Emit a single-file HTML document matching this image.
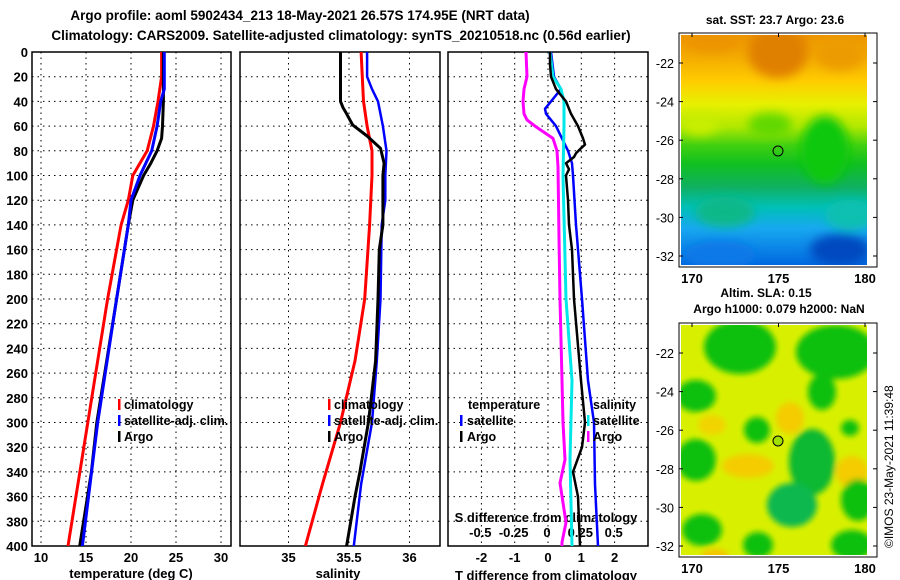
<!DOCTYPE html>
<html><head><meta charset="utf-8">
<style>
html,body{margin:0;padding:0;background:#fff;}
svg{display:block;font-family:"Liberation Sans",sans-serif;font-weight:bold;}
</style></head>
<body>
<svg id="chart" width="900" height="580" viewBox="0 0 900 580" xmlns="http://www.w3.org/2000/svg">
<defs>
<filter id="blur6" x="-30%" y="-30%" width="160%" height="160%"><feGaussianBlur stdDeviation="5"/></filter>
<filter id="blur4" x="-30%" y="-30%" width="160%" height="160%"><feGaussianBlur stdDeviation="3"/></filter>
<linearGradient id="sstGrad" x1="0" y1="0" x2="0" y2="1">
<stop offset="0" stop-color="#ec9400"/><stop offset="0.1" stop-color="#f4ac00"/>
<stop offset="0.2" stop-color="#ffcc00"/><stop offset="0.3" stop-color="#e8f000"/>
<stop offset="0.4" stop-color="#b0e800"/><stop offset="0.48" stop-color="#40d010"/>
<stop offset="0.56" stop-color="#10c020"/><stop offset="0.66" stop-color="#10b060"/>
<stop offset="0.75" stop-color="#00c0b8"/><stop offset="0.84" stop-color="#18a8f0"/>
<stop offset="1" stop-color="#0068e0"/>
</linearGradient>
<clipPath id="clipMap1"><rect x="681" y="35" width="186" height="230"/></clipPath>
<clipPath id="clipMap2"><rect x="681" y="325" width="186" height="230"/></clipPath>
<clipPath id="clipP1"><rect x="32" y="52" width="199" height="494"/></clipPath>
<clipPath id="clipP2"><rect x="240" y="52" width="200" height="494"/></clipPath>
<clipPath id="clipP3"><rect x="448" y="52" width="200" height="494"/></clipPath>
</defs>
<text x="300" y="20" font-size="13.5" text-anchor="middle">Argo profile: aoml 5902434_213 18-May-2021 26.57S 174.95E (NRT data)</text>
<text x="341" y="40" font-size="13.5" text-anchor="middle">Climatology: CARS2009. Satellite-adjusted climatology: synTS_20210518.nc (0.56d earlier)</text>

<g>
<g clip-path="url(#clipMap1)">
<rect x="681" y="35" width="186" height="230" fill="url(#sstGrad)"/>
<g filter="url(#blur6)">
<ellipse cx="778" cy="52" rx="30" ry="26" fill="#e08000"/>
<ellipse cx="712" cy="42" rx="28" ry="10" fill="#ec9400"/>
<ellipse cx="840" cy="55" rx="25" ry="16" fill="#ec9c00"/>
<ellipse cx="825" cy="150" rx="24" ry="34" fill="#10c810"/>
<ellipse cx="770" cy="125" rx="22" ry="12" fill="#60d800"/>
<ellipse cx="700" cy="125" rx="18" ry="10" fill="#c8ee00"/>
<ellipse cx="850" cy="215" rx="25" ry="15" fill="#10c0b0"/>
<ellipse cx="725" cy="212" rx="30" ry="15" fill="#10b888"/>
<ellipse cx="720" cy="255" rx="35" ry="14" fill="#0a78e8"/>
<ellipse cx="840" cy="250" rx="30" ry="16" fill="#0048c0"/>
</g>
</g>
<circle cx="778" cy="151" r="5" fill="none" stroke="#000" stroke-width="1"/>
<rect x="679" y="33" width="198" height="234" fill="none" stroke="#000" stroke-width="1"/>
<text x="775" y="24" font-size="12" text-anchor="middle">sat. SST: 23.7 Argo: 23.6</text>
</g>

<g>
<g clip-path="url(#clipMap2)">
<rect x="681" y="325" width="186" height="230" fill="#d8f000"/>
<g filter="url(#blur4)">
<ellipse cx="790" cy="418" rx="14" ry="16" fill="#f4cc00"/>
<ellipse cx="748" cy="466" rx="26" ry="12" fill="#f4cc00"/>
<ellipse cx="712" cy="425" rx="14" ry="10" fill="#f2d400"/>
<ellipse cx="852" cy="472" rx="16" ry="16" fill="#f4cc00"/>
<ellipse cx="715" cy="556" rx="14" ry="7" fill="#f4c400"/>
<ellipse cx="740" cy="347" rx="36" ry="27" fill="#10c010"/>
<ellipse cx="836" cy="352" rx="40" ry="27" fill="#10c010"/>
<ellipse cx="822" cy="392" rx="14" ry="18" fill="#10c010"/>
<ellipse cx="696" cy="396" rx="20" ry="16" fill="#10c010"/>
<ellipse cx="757" cy="430" rx="13" ry="13" fill="#10c010"/>
<ellipse cx="812" cy="462" rx="23" ry="33" fill="#10b830"/>
<ellipse cx="696" cy="460" rx="20" ry="21" fill="#10c010"/>
<ellipse cx="792" cy="505" rx="25" ry="22" fill="#10b850"/>
<ellipse cx="858" cy="500" rx="17" ry="21" fill="#10c010"/>
<ellipse cx="702" cy="530" rx="20" ry="16" fill="#10c010"/>
<ellipse cx="758" cy="545" rx="15" ry="13" fill="#10c010"/>
<ellipse cx="852" cy="545" rx="21" ry="15" fill="#10c010"/>
<ellipse cx="850" cy="428" rx="9" ry="8" fill="#10c010"/>
</g>
</g>
<circle cx="778" cy="441" r="5" fill="#a0e000" stroke="#000" stroke-width="1"/>
<rect x="679" y="323" width="198" height="234" fill="none" stroke="#000" stroke-width="1"/>
<text x="766" y="297" font-size="12" text-anchor="middle">Altim. SLA: 0.15</text>
<text x="779" y="313" font-size="12" text-anchor="middle">Argo h1000: 0.079 h2000: NaN</text>
</g>
<text transform="translate(893,548) rotate(-90)" font-size="12" font-weight="normal">©IMOS 23-May-2021 11:39:48</text>
<g id="dyn"></g>
</svg>
<script>
const depthTicks = [0,20,40,60,80,100,120,140,160,180,200,220,240,260,280,300,320,340,360,380,400];
const tempTicks = [10,15,20,25,30];
const salTicks = [35,35.5,36];
const tdiffTicks = [-2,-1,0,1,2];
const sdiffTicks = [-0.5,-0.25,0,0.25,0.5];
const sdiffTickLabels = ['-0.5','-0.25','0','0.25','0.5'];
const latTicks = [-22,-24,-26,-28,-30,-32];
const lonTicks = [170,175,180];

const tempClimDepth = [0,20,40,60,80,100,120,140,200,300,400];
const tempClim = [23.4,23.4,23.0,22.5,21.8,20.2,19.7,18.9,17.4,15.2,13.0];
const tempSatDepth = [0,30,40,60,80,100,120,140,200,300,400];
const tempSat = [23.7,23.7,23.3,22.9,22.3,21.0,20.0,19.7,18.4,16.3,14.6];
const tempArgoDepth = [0,30,40,60,70,80,90,100,120,140,200,300,340,400];
const tempArgo = [23.6,23.6,23.6,23.5,23.4,22.9,22.2,21.4,20.2,19.7,18.4,16.2,15.6,14.3];

const salClimDepth = [0,40,60,80,100,140,200,250,300,350,400];
const salClim = [35.60,35.62,35.65,35.69,35.69,35.67,35.63,35.55,35.43,35.28,35.14];
const salSatDepth = [0,20,30,40,60,80,100,120,140,200,250,300,350,400];
const salSat = [35.65,35.65,35.69,35.74,35.78,35.81,35.80,35.80,35.77,35.76,35.73,35.69,35.60,35.54];
const salArgoDepth = [0,40,45,50,59,68,78,90,100,140,160,200,250,300,340,360,400];
const salArgo = [35.43,35.43,35.45,35.48,35.53,35.65,35.76,35.79,35.78,35.78,35.75,35.74,35.72,35.66,35.59,35.55,35.48];

const dMagDepth = [0,20,30,40,50,55,60,70,80,93,150,200,266,300,330,349,381,397,400];
const dMag = [-0.66,-0.63,-0.72,-0.75,-0.72,-0.63,-0.39,0.15,0.27,0.30,0.33,0.36,0.42,0.45,0.51,0.36,0.54,0.42,0.42];
const dCyanDepth = [0,20,30,40,60,100,200,266,330,400];
const dCyan = [0.06,0.15,0.39,0.48,0.48,0.45,0.54,0.72,0.66,0.72];
const dBlueDepth = [0,20,30,46,50,60,70,80,90,100,140,200,266,300,350,400];
const dBlue = [0.09,0.18,0.39,-0.09,-0.06,0.24,0.42,0.6,0.72,0.75,0.84,1.02,1.2,1.38,1.41,1.5];
const dArgoDepth = [0,10,20,30,40,50,60,70,75,78,82,85,90,95,100,120,140,160,200,266,300,320,340,360,400];
const dArgo = [0.06,0.06,0.09,0.24,0.54,0.69,0.9,1.05,1.11,0.99,0.84,0.78,0.54,0.63,0.54,0.6,0.63,0.72,0.78,0.99,1.11,1.02,0.75,0.9,0.96];

const yD = d => 52 + d*1.235;
const xT = t => 41 + (t-10)*9.0;
const xS = s => 349 + (s-35.5)*121;
const xTd = v => 548 + v*33.3;
const xSd = v => 548 + v*133.3;
const yLat = (lat, top) => top + 28 + (-22 - lat)*19.3;
const xLon = lon => 692 + (lon-170)*17.3;

const NS='http://www.w3.org/2000/svg';
const root=document.getElementById('dyn');
function mk(tag, attrs, parent){const e=document.createElementNS(NS,tag);for(const k in attrs)e.setAttribute(k,attrs[k]);(parent||root).appendChild(e);return e;}
function txt(s, attrs, parent){const e=mk('text',attrs,parent);e.textContent=s;return e;}

const panels=[{x0:32,x1:231,clip:'clipP1',name:'temperature-panel'},{x0:240,x1:440,clip:'clipP2',name:'salinity-panel'},{x0:448,x1:648,clip:'clipP3',name:'difference-panel'}];
panels.forEach((p,i)=>{
  const g=mk('g',{});
  
  
  depthTicks.forEach(d=>{
    const l=mk('line',{x1:p.x0,x2:p.x1,y1:yD(d),y2:yD(d),stroke:'#000','stroke-width':1,'stroke-dasharray':'1.5 4'},g);
    
    
  });
  const vt = i===0?tempTicks.map(xT):i===1?salTicks.map(xS):tdiffTicks.map(xTd);
  vt.forEach(x=>{
    const l=mk('line',{x1:x,x2:x,y1:52,y2:546,stroke:'#000','stroke-width':1,'stroke-dasharray':'1.5 4'},g);
    
    
  });
  const r=mk('rect',{x:p.x0,y:52,width:p.x1-p.x0,height:494,fill:'none',stroke:'#000','stroke-width':1.5},g);
  
  
});
depthTicks.forEach(d=>{
  const t=txt(String(d),{x:28,y:yD(d)+5,'font-size':13,'text-anchor':'end'});
  
  
});
tempTicks.forEach(v=>{const t=txt(String(v),{x:xT(v),y:562,'font-size':13,'text-anchor':'middle'});
  
  });
salTicks.forEach(v=>{const t=txt(String(v),{x:xS(v),y:562,'font-size':13,'text-anchor':'middle'});
  
  });
tdiffTicks.forEach(v=>{const t=txt(String(v),{x:xTd(v),y:562,'font-size':13,'text-anchor':'middle'});
  
  });
sdiffTicks.forEach((v,i)=>{const t=txt(sdiffTickLabels[i],{x:xSd(v)-1,y:537,'font-size':13,'text-anchor':'middle'});
  
  });
let t;
t=txt('S difference from climatology',{x:546,y:522,'font-size':13,'text-anchor':'middle'});


t=txt('temperature (deg C)',{x:131,y:578,'font-size':13,'text-anchor':'middle'});


t=txt('salinity',{x:338,y:578,'font-size':13,'text-anchor':'middle'});


t=txt('T difference from climatology',{x:546,y:580,'font-size':13,'text-anchor':'middle'});



function line(depths, vals, xf, color, w, clip, name){
  const pts=depths.map((d,i)=>xf(vals[i]).toFixed(1)+','+yD(d).toFixed(1)).join(' ');
  const pl=mk('polyline',{points:pts,fill:'none',stroke:color,'stroke-width':w,'clip-path':'url(#'+clip+')','stroke-linejoin':'round'});
  
  
}
line(tempClimDepth,tempClim,xT,'#ff0000',3,'clipP1','temp-climatology-line');
line(tempArgoDepth,tempArgo,xT,'#000000',3,'clipP1','temp-argo-line');
line(tempSatDepth,tempSat,xT,'#0000ff',3,'clipP1','temp-satellite-line');
line(salClimDepth,salClim,xS,'#ff0000',3,'clipP2','sal-climatology-line');
line(salSatDepth,salSat,xS,'#0000ff',2.5,'clipP2','sal-satellite-line');
line(salArgoDepth,salArgo,xS,'#000000',3,'clipP2','sal-argo-line');
line(dMagDepth,dMag,xTd,'#ff00ff',3,'clipP3','sdiff-argo-line');
line(dBlueDepth,dBlue,xTd,'#0000ff',2.5,'clipP3','tdiff-satellite-line');
line(dCyanDepth,dCyan,xTd,'#00e8e8',3,'clipP3','sdiff-satellite-line');
line(dArgoDepth,dArgo,xTd,'#000000',2.5,'clipP3','tdiff-argo-line');

function legend(x, y, color, label, anchorText){
  const g=mk('g',{});
  
  
  if(color) mk('rect',{x:x,y:y-10,width:2.5,height:11,fill:color},g);
  txt(label,{x:anchorText,y:y,'font-size':12.5},g);
}
legend(118,409,'#ff0000','climatology',124);
legend(118,425,'#0000ff','satellite-adj. clim.',124);
legend(118,441,'#000000','Argo',124);
legend(328,409,'#ff0000','climatology',334);
legend(328,425,'#0000ff','satellite-adj. clim.',334);
legend(328,441,'#000000','Argo',334);
legend(0,409,null,'temperature',468);
legend(460,425,'#0000ff','satellite',467);
legend(460,441,'#000000','Argo',467);
legend(0,409,null,'salinity',593);
legend(587,425,'#00e8e8','satellite',593);
legend(587,441,'#ff00ff','Argo',593);

[35,325].forEach((top,mi)=>{
  latTicks.forEach(lat=>{
    const y=yLat(lat,top);
    const l1=mk('line',{x1:679,x2:683,y1:y,y2:y,stroke:'#000'});
    
    
    const l2=mk('line',{x1:873,x2:877,y1:y,y2:y,stroke:'#000'});
    
    
    const tt=txt(String(lat),{x:674,y:y+5,'font-size':12.5,'text-anchor':'end','font-weight':'normal'});
    
    
  });
  lonTicks.forEach(lon=>{
    const x=xLon(lon);
    const l=mk('line',{x1:x,x2:x,y1:top-2,y2:top+2,stroke:'#000'});
    
    
    const tt=txt(String(lon),{x:x,y:top+248,'font-size':13,'text-anchor':'middle'});
    
    
  });
});
</script>
</body></html>
